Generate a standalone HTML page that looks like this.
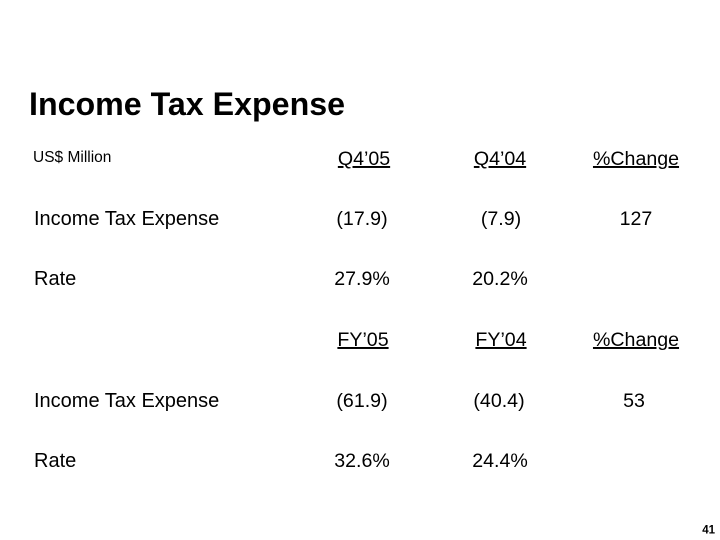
<!DOCTYPE html>
<html>
<head>
<meta charset="utf-8">
<style>
  html, body { margin: 0; padding: 0; background: #fff; }
  body { width: 720px; height: 540px; overflow: hidden; }
  svg { display: block; }
  text { font-family: "Liberation Sans", Arial, sans-serif; fill: #000; }
</style>
</head>
<body>
<svg width="720" height="540" viewBox="0 0 720 540" xmlns="http://www.w3.org/2000/svg">
  <rect x="0" y="0" width="720" height="540" fill="#fff"/>
  <text x="29" y="115" font-size="32.2" font-weight="bold">Income Tax Expense</text>
  <text x="33" y="162" font-size="15.5">US$ Million</text>

  <g font-size="19.6" text-anchor="middle">
    <text x="364" y="165" text-decoration="underline">Q4’05</text>
    <text x="500" y="165" text-decoration="underline">Q4’04</text>
    <text x="636" y="165" text-decoration="underline">%Change</text>

    <text x="362" y="225">(17.9)</text>
    <text x="501" y="225">(7.9)</text>
    <text x="636" y="225">127</text>

    <text x="362" y="285">27.9%</text>
    <text x="500" y="285">20.2%</text>

    <text x="363" y="346" text-decoration="underline">FY’05</text>
    <text x="501" y="346" text-decoration="underline">FY’04</text>
    <text x="636" y="346" text-decoration="underline">%Change</text>

    <text x="362" y="407">(61.9)</text>
    <text x="499" y="407">(40.4)</text>
    <text x="634" y="407">53</text>

    <text x="362" y="467">32.6%</text>
    <text x="500" y="467">24.4%</text>
  </g>

  <g font-size="20">
    <text x="34" y="225">Income Tax Expense</text>
    <text x="34" y="285">Rate</text>
    <text x="34" y="407">Income Tax Expense</text>
    <text x="34" y="467">Rate</text>
  </g>

  <text x="715" y="533.5" font-size="11.5" font-weight="bold" text-anchor="end">41</text>
</svg>
</body>
</html>
